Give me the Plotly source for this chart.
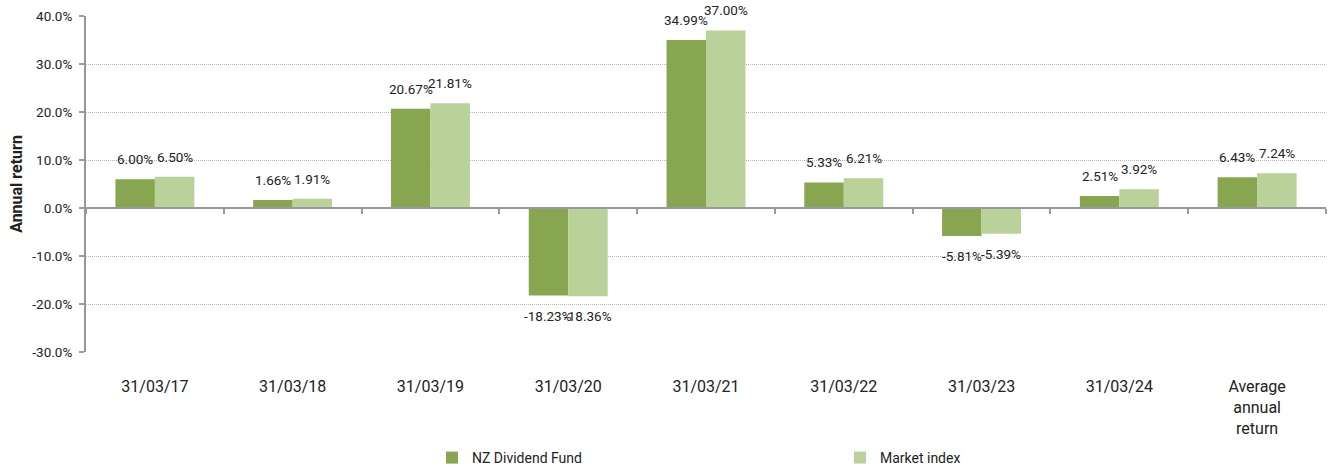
import plotly.graph_objects as go

categories = ["31/03/17", "31/03/18", "31/03/19", "31/03/20", "31/03/21",
              "31/03/22", "31/03/23", "31/03/24", "Average<br>annual<br>return"]
fund = [6.00, 1.66, 20.67, -18.23, 34.99, 5.33, -5.81, 2.51, 6.43]
market = [6.50, 1.91, 21.81, -18.36, 37.00, 6.21, -5.39, 3.92, 7.24]
y_ticks = [-30, -20, -10, 0, 10, 20, 30, 40]
y_tick_text = [f"{v:.1f}%" for v in y_ticks]

FONT = "Roboto"
TXT = "#222222"

fig = go.Figure()
fig.add_trace(go.Bar(name="NZ Dividend Fund", x=categories, y=fund,
                     marker=dict(color="#88A64F", line=dict(width=0))))
fig.add_trace(go.Bar(name="Market index", x=categories, y=market,
                     marker=dict(color="#BBD19A", line=dict(width=0))))
# helper trace for the zero-line axis with boundary ticks
fig.add_trace(go.Scatter(x=categories, y=[None] * len(categories), xaxis="x2",
                         showlegend=False, hoverinfo="skip", mode="markers"))

# data labels (positioned from the data via the axes)
half_bar = 1240 / len(categories) * (1 - 0.427) / 4
for series, side in ((fund, -1), (market, 1)):
    for cat, val in zip(categories, series):
        fig.add_annotation(x=cat, y=val, xref="x", yref="y",
                           text=f"{val:.2f}%", showarrow=False,
                           xshift=side * half_bar, yshift=20 if val >= 0 else -20,
                           yanchor="middle", xanchor="center",
                           font=dict(family=FONT, size=13.5, color=TXT))

fig.update_layout(
    width=1330, height=470,
    margin=dict(l=86, r=4, t=16, b=118),
    plot_bgcolor="white", paper_bgcolor="white",
    barmode="group", bargap=0.427, bargroupgap=0,
    font=dict(family=FONT, size=13, color=TXT),
    showlegend=True,
    legend=dict(orientation="h", xref="paper", x=0.279, xanchor="left",
                yref="container", y=12 / 470, yanchor="middle",
                entrywidth=363, entrywidthmode="pixels",
                font=dict(family=FONT, size=14, color=TXT), itemwidth=30),
    xaxis=dict(type="category", categoryorder="array", categoryarray=categories,
               range=[-0.5, len(categories) - 0.5], automargin=False,
               showline=False, ticks="", showgrid=False, zeroline=False,
               ticklabelstandoff=23,
               tickfont=dict(family=FONT, size=16, color=TXT)),
    xaxis2=dict(type="category", categoryorder="array", categoryarray=categories,
                range=[-0.5, len(categories) - 0.5], automargin=False,
                overlaying="x", anchor="free", position=30 / 70,
                showline=True, linecolor="#999999", linewidth=2,
                ticks="outside", tickson="boundaries", ticklen=5, tickcolor="#999999",
                tickwidth=2, showticklabels=False, showgrid=False, zeroline=False),
    yaxis=dict(range=[-30, 40], tickvals=y_ticks, ticktext=y_tick_text, automargin=False,
               showgrid=True, gridcolor="#b5b5b5", griddash="1px,1px", gridwidth=1,
               zeroline=False,
               showline=True, linecolor="#999999", linewidth=2,
               ticks="outside", ticklen=5, tickcolor="#999999", tickwidth=2,
               ticklabelstandoff=4,
               tickfont=dict(family=FONT, size=13.5, color=TXT),
               title=dict(text="<b>Annual return</b>", standoff=6,
                          font=dict(family=FONT, size=16, color=TXT))),
)

fig.write_html("out.html", config={"displayModeBar": False},
               post_script="document.body.style.margin='0';")
